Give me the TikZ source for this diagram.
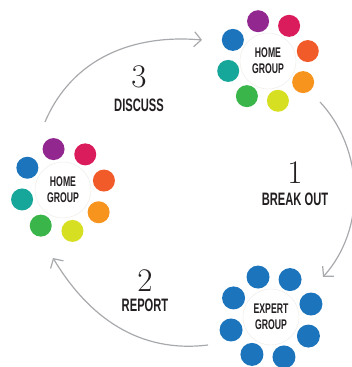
\documentclass[tikz,border=0pt]{standalone}
\usepackage{fontspec}
\newfontfamily\condfont[FakeStretch=0.62]{Liberation Sans}
\usetikzlibrary{arrows.meta}
\usetikzlibrary{positioning}
\definecolor{ink}{HTML}{231F20}
\definecolor{arcgray}{HTML}{A7A9AC}
\definecolor{hubline}{HTML}{EEEAE6}
\definecolor{dotpurple}{HTML}{92278F}
\definecolor{dotmagenta}{HTML}{DA1C5C}
\definecolor{dotorange}{HTML}{F15A29}
\definecolor{dotamber}{HTML}{F7941D}
\definecolor{dotyellow}{HTML}{D7DF23}
\definecolor{dotgreen}{HTML}{39B54A}
\definecolor{dotteal}{HTML}{16A69A}
\definecolor{dotblue}{HTML}{1C75BC}
\tikzstyle{arrow}     = [line width=1.2pt, draw=arcgray, -{Straight Barb[length=7pt,width=15pt]}]
\tikzstyle{dot}       = [circle, inner sep=0pt, minimum size=22pt]
\tikzstyle{hub}       = [circle, draw=hubline, fill=white, inner sep=0pt, minimum size=56pt, text=ink, align=center, font=\condfont\bfseries\fontsize{14}{16}\selectfont]
\tikzstyle{stepnum}   = [text=ink, inner sep=0pt, font=\fontsize{33}{33}\selectfont]
\tikzstyle{steplabel} = [text=ink, inner sep=0pt, font=\condfont\bfseries\fontsize{18}{18}\selectfont]

\begin{document}
\begin{tikzpicture}[x=1pt, y=1pt]
      \useasboundingbox (0,0) rectangle (351,367);
      % Top home group
      \node[hub] (tophome) at (268,306) {HOME\\GROUP};
      \foreach \c [count=\i] in {dotpurple,dotmagenta,dotorange,dotamber,dotyellow,dotgreen,dotteal,dotblue}
        \node[dot, fill=\c] (tophome-\i) at ([shift={({149-\i*45}:41)}]tophome) {};
      % Left home group
      \node[hub] (lefthome) at (63,177) {HOME\\GROUP};
      \foreach \c [count=\i] in {dotpurple,dotmagenta,dotorange,dotamber,dotyellow,dotgreen,dotteal,dotblue}
        \node[dot, fill=\c] (lefthome-\i) at ([shift={({148-\i*45}:42)}]lefthome) {};
      % Expert group
      \node[hub] (expert) at (271,50) {EXPERT\\GROUP};
      \foreach \i in {1,...,8}
        \node[dot, fill=dotblue, minimum size=23pt] (expert-\i) at ([shift={({153-\i*45}:42)}]expert) {};
      % Step labels
      \node[steplabel] (breakout) at (295,168) {BREAK OUT};
      \node[stepnum, above=9pt of breakout] (one) {1};
      \node[steplabel] (report) at (145,62) {REPORT};
      \node[stepnum, above=7pt of report] (two) {2};
      \node[steplabel] (discuss) at (139,262) {DISCUSS};
      \node[stepnum, above=10pt of discuss] (three) {3};
      % Cycle arcs
      \coordinate (discuss-from) at (45,245);
      \coordinate (discuss-to) at (202,327);
      \coordinate (breakout-from) at (320,265);
      \coordinate (breakout-to) at (323,90);
      \coordinate (report-from) at (208,22);
      \coordinate (report-to) at (53,109);
      \draw[arrow] (discuss-from) to[out=67, in=175] (discuss-to);
      \draw[arrow] (breakout-from) to[out=-47, in=48, looseness=0.95] (breakout-to);
      \draw[arrow] (report-from) to[out=187, in=-59] (report-to);
    \end{tikzpicture}
\end{document}
